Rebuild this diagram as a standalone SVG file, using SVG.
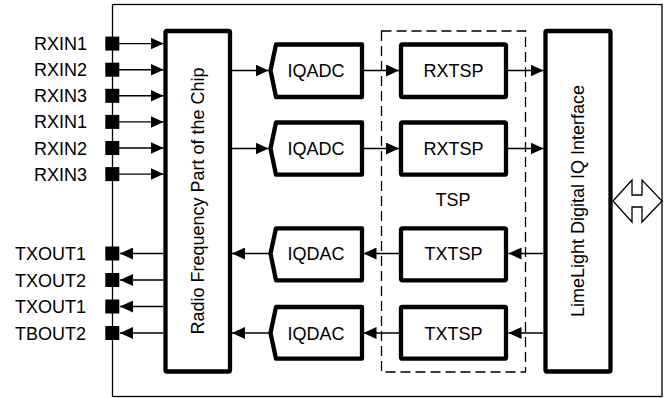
<svg xmlns="http://www.w3.org/2000/svg" width="670" height="398" viewBox="0 0 670 398">
<style>
text{font-family:"Liberation Sans",Arial,sans-serif;font-size:18px;fill:#000}
.lbl{text-anchor:end}
.c{text-anchor:middle}
.blk{fill:#fff;stroke:#000;stroke-width:4.3;stroke-linejoin:round}
.frame{fill:#fff;stroke:#000;stroke-width:1.3}
.pin{fill:#000}
.ln{stroke:#000;stroke-width:1.4;fill:none;marker-end:url(#ah)}
.dash{fill:none;stroke:#000;stroke-width:1.3;stroke-dasharray:10 5}
</style>
<defs>
<marker id="ah" markerWidth="13" markerHeight="12" refX="13" refY="6" orient="auto" markerUnits="userSpaceOnUse">
<path d="M0,0 L13,6 L0,12 z" fill="#000"/>
</marker>
</defs>
<rect x="0" y="0" width="670" height="398" fill="#fff"/>
<rect id="frame" class="frame" x="112.5" y="4.5" width="549.5" height="392"/>

<g id="tsp">
<rect class="dash" x="381.5" y="31" width="144" height="341"/>
<text class="c" x="453" y="206">TSP</text>
</g>

<g id="connectors">
<line class="ln" x1="119" y1="43.6" x2="163.5" y2="43.6"/>
<line class="ln" x1="119" y1="69.7" x2="163.5" y2="69.7"/>
<line class="ln" x1="119" y1="95.8" x2="163.5" y2="95.8"/>
<line class="ln" x1="119" y1="121.9" x2="163.5" y2="121.9"/>
<line class="ln" x1="119" y1="148" x2="163.5" y2="148"/>
<line class="ln" x1="119" y1="174.1" x2="163.5" y2="174.1"/>
<line class="ln" x1="163" y1="253.5" x2="120" y2="253.5"/>
<line class="ln" x1="163" y1="280" x2="120" y2="280"/>
<line class="ln" x1="163" y1="306.5" x2="120" y2="306.5"/>
<line class="ln" x1="163" y1="333" x2="120" y2="333"/>
<line class="ln" x1="232" y1="70.5" x2="268.5" y2="70.5"/>
<line class="ln" x1="232" y1="148.5" x2="268.5" y2="148.5"/>
<line class="ln" x1="364" y1="70.5" x2="399" y2="70.5"/>
<line class="ln" x1="364" y1="148.5" x2="399" y2="148.5"/>
<line class="ln" x1="508" y1="70.5" x2="543.5" y2="70.5"/>
<line class="ln" x1="508" y1="148.5" x2="543.5" y2="148.5"/>
<line class="ln" x1="543" y1="253.5" x2="508.5" y2="253.5"/>
<line class="ln" x1="543" y1="333" x2="508.5" y2="333"/>
<line class="ln" x1="399" y1="253.5" x2="363.5" y2="253.5"/>
<line class="ln" x1="399" y1="333" x2="363.5" y2="333"/>
<line class="ln" x1="269" y1="253.5" x2="232" y2="253.5"/>
<line class="ln" x1="269" y1="333" x2="232" y2="333"/>
</g>

<g id="pins">
<rect class="pin" x="105.3" y="36.6" width="14" height="14"/>
<rect class="pin" x="105.3" y="62.7" width="14" height="14"/>
<rect class="pin" x="105.3" y="88.8" width="14" height="14"/>
<rect class="pin" x="105.3" y="114.9" width="14" height="14"/>
<rect class="pin" x="105.3" y="141" width="14" height="14"/>
<rect class="pin" x="105.3" y="167.1" width="14" height="14"/>
<rect class="pin" x="105.3" y="246.5" width="14" height="14"/>
<rect class="pin" x="105.3" y="273" width="14" height="14"/>
<rect class="pin" x="105.3" y="299.5" width="14" height="14"/>
<rect class="pin" x="105.3" y="326" width="14" height="14"/>
<text class="lbl" x="87" y="50.1">RXIN1</text>
<text class="lbl" x="87" y="76.2">RXIN2</text>
<text class="lbl" x="87" y="102.3">RXIN3</text>
<text class="lbl" x="87" y="128.4">RXIN1</text>
<text class="lbl" x="87" y="154.5">RXIN2</text>
<text class="lbl" x="87" y="180.6">RXIN3</text>
<text class="lbl" x="86" y="260">TXOUT1</text>
<text class="lbl" x="86" y="286.5">TXOUT2</text>
<text class="lbl" x="86" y="313">TXOUT1</text>
<text class="lbl" x="86" y="339.5">TBOUT2</text>
</g>

<g id="rf">
<rect class="blk" x="165.5" y="31" width="64.5" height="340.5" rx="1.5"/>
<text class="c" transform="translate(203.5,201) rotate(-90)">Radio Frequency Part of the Chip</text>
</g>

<g id="iqadc1">
<polygon class="blk" points="276,44.5 362,44.5 362,97 276,97 270.5,70.5"/>
<text class="c" x="316" y="77">IQADC</text>
</g>
<g id="iqadc2">
<polygon class="blk" points="276,122.5 362,122.5 362,174.7 276,174.7 270.5,148.5"/>
<text class="c" x="316" y="155">IQADC</text>
</g>
<g id="iqdac1">
<polygon class="blk" points="276,228.3 362,228.3 362,280.3 276,280.3 270.5,253.5"/>
<text class="c" x="316" y="260">IQDAC</text>
</g>
<g id="iqdac2">
<polygon class="blk" points="276,307 362,307 362,358.7 276,358.7 270.5,333"/>
<text class="c" x="316" y="339.5">IQDAC</text>
</g>

<g id="rxtsp1">
<rect class="blk" x="401" y="44.5" width="105" height="52.5" rx="1.5"/>
<text class="c" x="453.5" y="77">RXTSP</text>
</g>
<g id="rxtsp2">
<rect class="blk" x="401" y="122.5" width="105" height="52.2" rx="1.5"/>
<text class="c" x="453.5" y="155">RXTSP</text>
</g>
<g id="txtsp1">
<rect class="blk" x="401" y="228.3" width="105" height="52" rx="1.5"/>
<text class="c" x="453.5" y="260">TXTSP</text>
</g>
<g id="txtsp2">
<rect class="blk" x="401" y="307" width="105" height="51.7" rx="1.5"/>
<text class="c" x="453.5" y="339.5">TXTSP</text>
</g>

<g id="limelight">
<rect class="blk" x="545.5" y="31" width="65" height="340.5" rx="1.5"/>
<text class="c" transform="translate(583.5,201) rotate(-90)">LimeLight Digital IQ Interface</text>
</g>

<g id="bus">
<polygon points="613,201 632,180 632,195 642,195 642,180 662,201 642,222 642,207 632,207 632,222" fill="#fff" stroke="#000" stroke-width="1.3" stroke-linejoin="miter"/>
</g>
</svg>
